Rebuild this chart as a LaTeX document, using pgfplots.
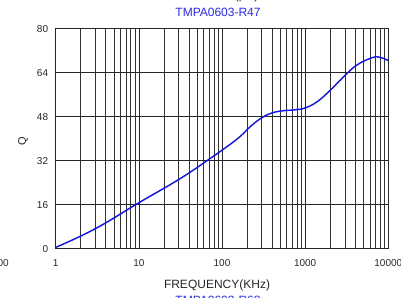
\documentclass[border=0pt]{standalone}
\usepackage{fontspec}
\setmainfont{Liberation Sans}
\usepackage{pgfplots}
\pgfplotsset{compat=1.18}
\definecolor{curveblue}{RGB}{15,15,250}
\definecolor{titleblue}{RGB}{40,40,255}
\begin{document}
\begin{tikzpicture}
\begin{axis}[
  at={(55.7pt,-248.5pt)}, anchor=south west,
  scale only axis, width=332.6pt, height=220.5pt,
  xmode=log, xmin=1, xmax=10000, ymin=0, ymax=80,
  xtick={1,10,100,1000,10000}, xticklabels={1,10,100,1000,10000},
  ytick={0,16,32,48,64,80},
  /pgf/number format/assume math mode=true,
  grid=both,
  major grid style={black!85, line width=0.6pt},
  minor grid style={black!80, line width=0.6pt},
  axis line style={black!85, line width=0.7pt},
  major tick length=0pt, minor tick length=0pt,
  tick label style={font=\fontsize{10}{12}\selectfont, text=black!85},
  xticklabel style={anchor=base, yshift=-18.2pt},
  yticklabel style={anchor=east, xshift=-4.1pt, yshift=-0.7pt},
]
\addplot[curveblue, line width=1.4pt, smooth, tension=0.7] coordinates {
(1,0.4) (3,7.2) (10,16.6) (30,25.0) (70,32.4) (150,39.6) (220,44.3)
(300,47.4) (400,49.2) (550,50.0) (750,50.3)
(1000,51.0) (1400,53.3) (2000,57.4) (2900,62.3) (4200,66.6) (6500,69.3) (8000,69.3) (10000,68.2)
};
\end{axis}
\node[anchor=base, text=titleblue, font=\fontsize{12}{14}\selectfont] at (218pt,-16.7pt) {TMPA0603-R47};
\node[anchor=base, text=black!85, font=\fontsize{12}{14}\selectfont] at (217pt,-288.7pt) {FREQUENCY(KHz)};
\node[rotate=90, text=black!85, font=\fontsize{11}{13}\selectfont] at (23pt,-141pt) {Q};
\node[anchor=base, text=titleblue, font=\fontsize{12}{14}\selectfont] at (218pt,-304.6pt) {TMPA0603-R68};
\node[anchor=base east, text=black!85, font=\fontsize{12}{14}\selectfont] at (262pt,1pt) {INDUCTANCE(μH)};
\node[anchor=base east, text=black!85, font=\fontsize{10}{12}\selectfont] at (12.3pt,-266.6pt) {10000};
\pgfresetboundingbox
\path[use as bounding box] (0,0) rectangle (401pt,-297pt);
\end{tikzpicture}
\end{document}
